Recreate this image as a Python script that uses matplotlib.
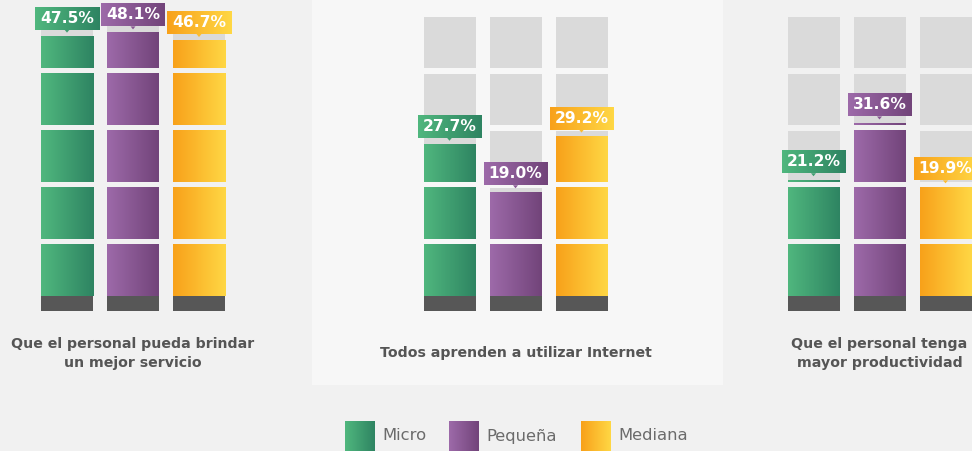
import numpy as np
import matplotlib
matplotlib.use("Agg")
import matplotlib.pyplot as plt
from matplotlib.colors import to_rgb
from matplotlib.patches import Rectangle, Polygon

# ---- data -------------------------------------------------------------
TITLES = ["Que el personal pueda brindar\nun mejor servicio",
          "Todos aprenden a utilizar Internet",
          "Que el personal tenga\nmayor productividad"]
SERIES = ["Micro", "Pequeña", "Mediana"]
MICRO   = [47.5, 27.7, 21.2]
PEQUENA = [48.1, 19.0, 31.6]
MEDIANA = [46.7, 29.2, 19.9]

GRADS = {"Micro":   ("#50b77e", "#2e8462"),
         "Pequeña": ("#9d6aa9", "#72447a"),
         "Mediana": ("#f8a11a", "#ffd744")}

# ---- layout (pixel units of the 972x451 canvas) ------------------------
W, H = 972, 451
BASE_PX = 296          # pixel row of the 0 % line
PX_PER_PCT = 5.46
GROUP_CX = [133, 515.5, 879.5]
BAR_W, BAR_PITCH = 52, 66
TRACK_TOP, N_SEG, SEG_GAP = 51.1, 5, 1.0
BG, PANEL = "#f1f1f1", "#f7f7f7"


def grad(ax, x0, x1, y0, y1, c0, c1, z=2):
    a, b = np.array(to_rgb(c0)), np.array(to_rgb(c1))
    t = np.linspace(0, 1, 64)[None, :, None]
    img = a + (b - a) * t
    ax.imshow(img, extent=(x0, x1, y0, y1), aspect="auto",
              interpolation="bilinear", zorder=z)


fig = plt.figure(figsize=(W / 100, H / 100), dpi=100)
fig.patch.set_facecolor(BG)
ax = fig.add_axes([0, 0, 1, 1])
ax.set_facecolor(BG)
ax.axis("off")
ymax = BASE_PX / PX_PER_PCT
ymin = -(H - BASE_PX) / PX_PER_PCT
px = 1 / PX_PER_PCT   # one pixel in data units

# middle panel
ax.add_patch(Rectangle((312, (BASE_PX - 385) * px), 723 - 312, 400 * px,
                       fc=PANEL, ec="none", zorder=0))

seg_h = (TRACK_TOP - (N_SEG - 1) * SEG_GAP) / N_SEG
segs = [(k * (seg_h + SEG_GAP), k * (seg_h + SEG_GAP) + seg_h) for k in range(N_SEG)]

values = {"Micro": MICRO, "Pequeña": PEQUENA, "Mediana": MEDIANA}
for gi, cx in enumerate(GROUP_CX):
    for si, name in enumerate(SERIES):
        v = values[name][gi]
        c0, c1 = GRADS[name]
        x0 = cx + (si - 1) * BAR_PITCH - BAR_W / 2
        x1 = x0 + BAR_W
        for lo, hi in segs:
            ax.add_patch(Rectangle((x0, lo), BAR_W, hi - lo,
                                   fc="#dadada", ec="none", zorder=1))
            if v > lo:
                grad(ax, x0, x1, lo, min(hi, v), c0, c1, z=2)
        ax.add_patch(Rectangle((x0, -15 * px), BAR_W, 15 * px,
                               fc="#575757", ec="none", zorder=3))
        # value callout
        bw, bh = 64, 23 * px
        by = v + 7 * px
        bx = (x0 + x1) / 2 - bw / 2
        grad(ax, bx, bx + bw, by, by + bh, c0, c1, z=5)
        mid = tuple((np.array(to_rgb(c0)) + np.array(to_rgb(c1))) / 2)
        xc = (x0 + x1) / 2
        ax.add_patch(Polygon([(xc - 2.5, by), (xc + 2.5, by), (xc, by - 3 * px)],
                             closed=True, fc=mid, ec="none", zorder=5))
        ax.text(xc, by + bh / 2, f"{v:.1f}%", ha="center", va="center",
                color="white", fontsize=11.2, fontweight="bold", zorder=6)
    ax.text(cx, (BASE_PX - 353.5) * px, TITLES[gi], ha="center", va="center",
            fontsize=10.2, fontweight="bold", color="#555555",
            linespacing=1.5, zorder=4)

# legend
leg_x = [345, 449, 581]
for name, lx in zip(SERIES, leg_x):
    c0, c1 = GRADS[name]
    grad(ax, lx, lx + 30, (BASE_PX - 451) * px, (BASE_PX - 421) * px, c0, c1, z=4)
    ax.text(lx + 37, (BASE_PX - 436) * px, name, ha="left", va="center",
            fontsize=11.8, color="#6b6b6b", zorder=4)

ax.set_xlim(0, W)
ax.set_ylim(ymin, ymax)
fig.savefig("out.png", dpi=100, facecolor=BG)
